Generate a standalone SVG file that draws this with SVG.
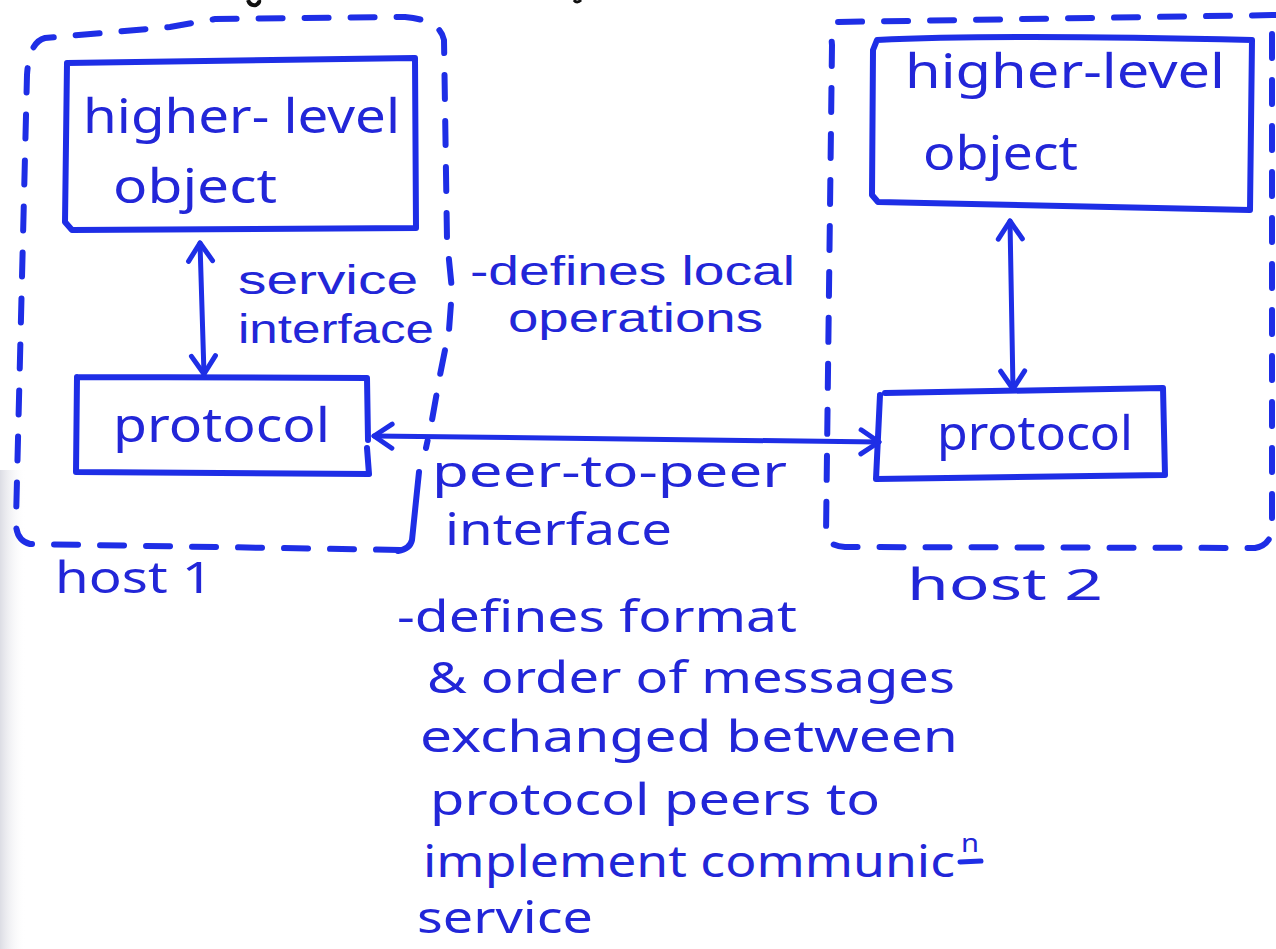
<svg xmlns="http://www.w3.org/2000/svg" width="1276" height="949" viewBox="0 0 1276 949">
  <defs>
    <style>
      .ink { fill: none; stroke: #1e2ee6; stroke-width: 6; stroke-linecap: round; stroke-linejoin: round; }
      .dash { fill: none; stroke: #1e2ee6; stroke-width: 6; stroke-linecap: round; stroke-dasharray: 24 22; }
      .wire { fill: none; stroke: #1e2ee6; stroke-width: 5; stroke-linecap: round; }
      .hand { font-family: "Noto Sans", "DejaVu Sans", sans-serif; fill: #2226d8; }
      .tight { font-family: "Liberation Sans", Arial, sans-serif; fill: #2226d8; font-size: 40px; }
      .big { font-size: 48px; }
      .mid { font-size: 44px; }
    </style>
    <marker id="head" viewBox="-22 -16 26 32" refX="0" refY="0" markerWidth="26" markerHeight="32" markerUnits="userSpaceOnUse" orient="auto-start-reverse">
      <path d="M-18,-12 L0,0 L-18,12" fill="none" stroke="#1e2ee6" stroke-width="5" stroke-linecap="round" stroke-linejoin="round"/>
    </marker>
    <linearGradient id="edge" x1="0" y1="0" x2="1" y2="0">
      <stop offset="0" stop-color="#dcdde4"/>
      <stop offset="1" stop-color="#ffffff" stop-opacity="0"/>
    </linearGradient>
  </defs>

  <!-- paper -->
  <rect width="1276" height="949" fill="#ffffff"/>
  <rect x="0" y="470" width="26" height="479" fill="url(#edge)"/>

  <!-- clipped fragments of writing above the sheet edge -->
  <path d="M248,0 Q250,6 256,5 Q260,3 259,0" fill="none" stroke="#111" stroke-width="4"/>
  <path d="M574,0 Q577,4 581,0" fill="none" stroke="#111" stroke-width="3"/>

  <!-- host 1 -->
  <g id="host1">
    <path class="dash" d="M400,550 L30,544 Q15,540 16,520 L27,75 Q29,42 45,38 L170,27 L215,19 L405,17 Q440,20 444,40 L447,240 L452,290 L449,330 L440,375 L432,420 L426,448"/>
    <path class="ink" d="M419,472 L412,540 Q410,549 398,551"/>
    <text class="hand mid" x="55" y="593" textLength="158" lengthAdjust="spacingAndGlyphs">host 1</text>
  </g>

  <!-- host 2 -->
  <g id="host2">
    <path class="dash" d="M1276,15 L838,22 Q830,26 832,45 L826,535 Q828,546 845,547 L1255,548 Q1270,545 1272,530 L1272,30"/>
    <text class="hand mid" x="907" y="600" textLength="196" lengthAdjust="spacingAndGlyphs">host 2</text>
  </g>

  <!-- host 1 : higher-level object -->
  <g id="hlo1">
    <path class="ink" d="M67,63 L415,58 L416,228 L72,230 L65,222 Z"/>
    <text class="hand big" x="83" y="133" textLength="317" lengthAdjust="spacingAndGlyphs">higher- level</text>
    <text class="hand big" x="113" y="203" textLength="164" lengthAdjust="spacingAndGlyphs">object</text>
  </g>

  <!-- host 1 : protocol -->
  <g id="proto1">
    <path class="ink" d="M77,377 L367,378 L368,440 M367,448 L369,474 L76,472 L77,377"/>
    <text class="hand big" x="113" y="442" textLength="217" lengthAdjust="spacingAndGlyphs">protocol</text>
  </g>

  <!-- host 2 : higher-level object -->
  <g id="hlo2">
    <path class="ink" d="M877,40 Q1000,34 1252,40 L1250,210 L878,202 L872,195 L873,50 Z"/>
    <text class="hand big" x="905" y="88" textLength="320" lengthAdjust="spacingAndGlyphs">higher-level</text>
    <text class="hand big" x="923" y="170" textLength="155" lengthAdjust="spacingAndGlyphs">object</text>
  </g>

  <!-- host 2 : protocol -->
  <g id="proto2">
    <path class="ink" d="M885,393 L1163,388 L1165,475 L876,479 L880,395"/>
    <text class="hand big" x="937" y="450" textLength="196" lengthAdjust="spacingAndGlyphs">protocol</text>
  </g>

  <!-- connectors -->
  <g id="connectors">
    <line class="wire" x1="200" y1="243" x2="204" y2="374" marker-start="url(#head)" marker-end="url(#head)"/>
    <line class="wire" x1="1010" y1="221" x2="1013" y2="389" marker-start="url(#head)" marker-end="url(#head)"/>
    <line class="wire" x1="374" y1="436" x2="879" y2="442" marker-start="url(#head)" marker-end="url(#head)"/>
  </g>

  <!-- annotations -->
  <g id="labels">
    <text class="tight" x="238" y="294" textLength="180" lengthAdjust="spacingAndGlyphs">service</text>
    <text class="tight" x="238" y="343" textLength="196" lengthAdjust="spacingAndGlyphs">interface</text>
    <text class="tight" x="470" y="285" textLength="325" lengthAdjust="spacingAndGlyphs">-defines local</text>
    <text class="tight" x="508" y="332" textLength="255" lengthAdjust="spacingAndGlyphs">operations</text>
    <text class="hand mid" x="432" y="487" textLength="355" lengthAdjust="spacingAndGlyphs">peer-to-peer</text>
    <text class="hand mid" x="445" y="545" textLength="227" lengthAdjust="spacingAndGlyphs">interface</text>
  </g>

  <g id="notes">
    <text class="hand mid" x="397" y="632" textLength="400" lengthAdjust="spacingAndGlyphs">-defines format</text>
    <text class="hand mid" x="427" y="693" textLength="528" lengthAdjust="spacingAndGlyphs">&amp; order of messages</text>
    <text class="hand mid" x="420" y="752" textLength="538" lengthAdjust="spacingAndGlyphs">exchanged between</text>
    <text class="hand mid" x="430" y="815" textLength="450" lengthAdjust="spacingAndGlyphs">protocol peers to</text>
    <text class="hand mid" x="423" y="877" textLength="532" lengthAdjust="spacingAndGlyphs">implement communic</text>
    <text class="hand" x="961" y="852" font-size="26" textLength="18" lengthAdjust="spacingAndGlyphs">n</text>
    <path class="wire" d="M960,862 L981,861" stroke-width="4"/>
    <text class="hand mid" x="417" y="933" textLength="176" lengthAdjust="spacingAndGlyphs">service</text>
  </g>
</svg>
